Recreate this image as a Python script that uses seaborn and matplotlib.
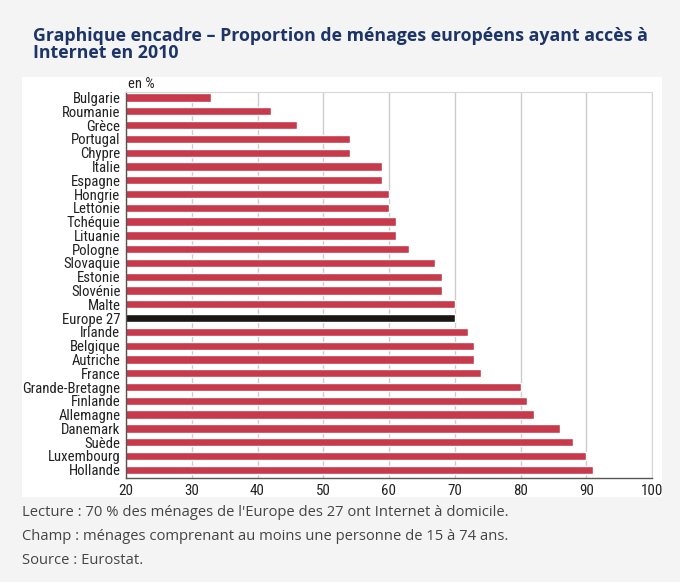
import matplotlib
matplotlib.use('Agg')
import matplotlib.pyplot as plt
import pandas as pd
import seaborn as sns
from matplotlib.patches import Rectangle

# Data (en %)
pays = ['Bulgarie', 'Roumanie', 'Grèce', 'Portugal', 'Chypre', 'Italie', 'Espagne',
        'Hongrie', 'Lettonie', 'Tchéquie', 'Lituanie', 'Pologne', 'Slovaquie',
        'Estonie', 'Slovénie', 'Malte', 'Europe 27', 'Irlande', 'Belgique',
        'Autriche', 'France', 'Grande-Bretagne', 'Finlande', 'Allemagne',
        'Danemark', 'Suède', 'Luxembourg', 'Hollande']
valeurs = [33, 42, 46, 54, 54, 59, 59, 60, 60, 61, 61, 63, 67, 68, 68, 70, 70,
           72, 73, 73, 74, 80, 81, 82, 86, 88, 90, 91]
x_ticks = [20, 30, 40, 50, 60, 70, 80, 90, 100]

df = pd.DataFrame({'pays': pays, 'valeur': valeurs})
rouge = '#c73a4b'
noir = '#1b1616'
palette = {p: (noir if p == 'Europe 27' else rouge) for p in pays}

sns.set_style('white')
condensed = ['Roboto Condensed', 'Sofia Sans Condensed', 'DejaVu Sans']
plt.rcParams['font.family'] = ['Open Sans', 'DejaVu Sans']

fig = plt.figure(figsize=(6.8, 5.82), dpi=100)
fig.patch.set_facecolor('#f4f4f4')
# white panel behind the chart
fig.patches.append(Rectangle((22 / 680, 1 - 497 / 582), 640 / 680, 420 / 582,
                             transform=fig.transFigure, facecolor='white',
                             edgecolor='none', zorder=-5))

ax = fig.add_axes([126 / 680, 1 - 478 / 582, 526 / 680, 386 / 582])
ax.set_facecolor('white')
sns.barplot(data=df, y='pays', x='valeur', hue='pays', palette=palette,
            orient='h', width=0.6, legend=False, ax=ax, saturation=1)

ax.set_xlim(20, 100)
ax.set_ylim(27.6, -0.4)
ax.set_xticks(x_ticks)
ax.set_xlabel('')
ax.set_ylabel('')
ax.grid(axis='x', color='#cccccc', linewidth=1)
ax.set_axisbelow(True)
for s in ['top', 'right']:
    ax.spines[s].set_color('#d8d8d8')
for s in ['left', 'bottom']:
    ax.spines[s].set_color('#555555')
    ax.spines[s].set_linewidth(1)
ax.tick_params(axis='both', length=0, pad=4)
for lab in ax.get_xticklabels():
    lab.set_fontfamily(condensed)
    lab.set_fontsize(10.8)
    lab.set_color('#222222')
for lab in ax.get_yticklabels():
    lab.set_fontfamily(condensed)
    lab.set_fontsize(10.6)
    lab.set_color('#222222')

fig.text(128 / 680, 1 - 84 / 582, 'en %', family=condensed, fontsize=10.5,
         color='#222222', va='center')

fig.text(33 / 680, 1 - 27 / 582,
         'Graphique encadre – Proportion de ménages européens ayant accès à\nInternet en 2010',
         fontsize=12.8, fontweight='bold', color='#1d3566', va='top',
         linespacing=0.95)

notes = ["Lecture : 70 % des ménages de l'Europe des 27 ont Internet à domicile.",
         'Champ : ménages comprenant au moins une personne de 15 à 74 ans.',
         'Source : Eurostat.']
for i, t in enumerate(notes):
    fig.text(22 / 680, 1 - (513 + i * 23.5) / 582, t, fontsize=10.6,
             color='#444444', va='center')

fig.savefig('out.png', dpi=100, facecolor=fig.get_facecolor())
